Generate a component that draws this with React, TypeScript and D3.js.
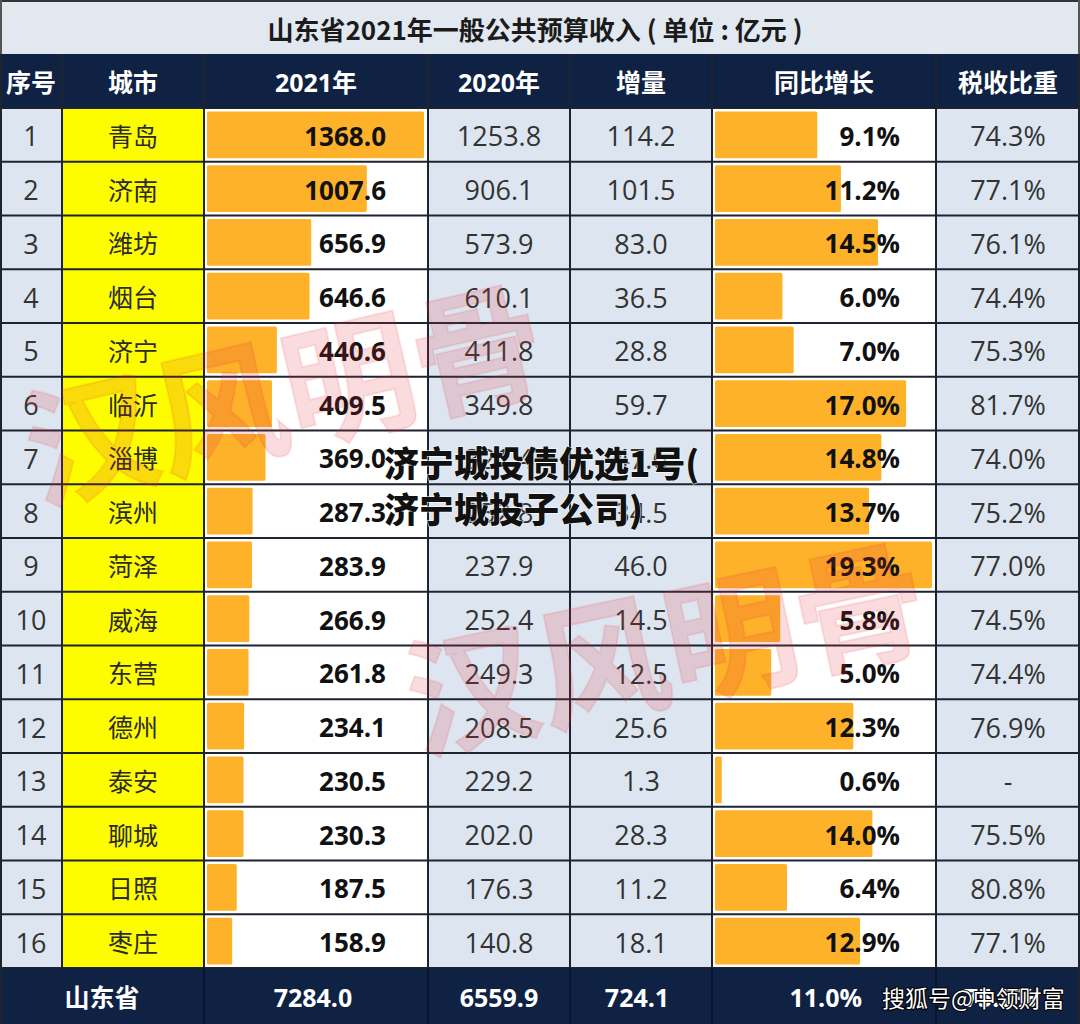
import React from "react";
import * as d3 from "d3";

const title = "山东省2021年一般公共预算收入 ( 单位 : 亿元 )";
const headers = ["序号", "城市", "2021年", "2020年", "增量", "同比增长", "税收比重"];
const ranks = [1, 2, 3, 4, 5, 6, 7, 8, 9, 10, 11, 12, 13, 14, 15, 16];
const cities = ["青岛", "济南", "潍坊", "烟台", "济宁", "临沂", "淄博", "滨州", "菏泽", "威海", "东营", "德州", "泰安", "聊城", "日照", "枣庄"];
const rev2021 = [1368.0, 1007.6, 656.9, 646.6, 440.6, 409.5, 369.0, 287.3, 283.9, 266.9, 261.8, 234.1, 230.5, 230.3, 187.5, 158.9];
const rev2020 = [1253.8, 906.1, 573.9, 610.1, 411.8, 349.8, 321.4, 252.8, 237.9, 252.4, 249.3, 208.5, 229.2, 202.0, 176.3, 140.8];
const increments = [114.2, 101.5, 83.0, 36.5, 28.8, 59.7, 47.6, 34.5, 46.0, 14.5, 12.5, 25.6, 1.3, 28.3, 11.2, 18.1];
const growth = [9.1, 11.2, 14.5, 6.0, 7.0, 17.0, 14.8, 13.7, 19.3, 5.8, 5.0, 12.3, 0.6, 14.0, 6.4, 12.9];
const taxShare: (number | null)[] = [74.3, 77.1, 76.1, 74.4, 75.3, 81.7, 74.0, 75.2, 77.0, 74.5, 74.4, 76.9, null, 75.5, 80.8, 77.1];
const totalLabel = "山东省";
const totals = { rev2021: 7284.0, rev2020: 6559.9, increment: 724.1, growth: 11.0, tax: 75.2 };
const overlayLines = ["济宁城投债优选1号(", "济宁城投子公司)"];
const watermark = "汉风明骨";
const credit = "搜狐号@中领财富";

const W = 1080;
const H = 1024;
const colX = [0, 62, 204, 428, 570, 712, 936, 1080];
const titleH = 54;
const headTop = 54;
const headBottom = 108;
const rowH = 53.75;
const footTop = headBottom + rowH * ranks.length;

const NAVY = "#0f2244";
const LIGHT = "#dde6f0";
const YELLOW = "#fdfd00";
const ORANGE = "#fdb22a";
const LINE = "#1e2330";
const FONT = "'Open Sans','Noto Sans CJK SC',sans-serif";

export default function App() {
  const x2021 = d3.scaleLinear().domain([0, d3.max(rev2021) as number]).range([0, 217]);
  const xGrowth = d3.scaleLinear().domain([0, d3.max(growth) as number]).range([0, 217]);
  const y = (i: number) => headBottom + i * rowH;
  const cx = (c: number) => (colX[c] + colX[c + 1]) / 2;

  return (
    <svg
      width={W}
      height={H}
      style={{ position: "absolute", left: 0, top: 0, background: "#fff" }}
      fontFamily={FONT}
    >
      {/* title */}
      <rect x={0} y={0} width={W} height={titleH} fill="#e2e8f0" />
      <line x1={0} x2={W} y1={1} y2={1} stroke="#333" strokeWidth={2} />
      <line x1={1} x2={1} y1={0} y2={titleH} stroke="#555" strokeWidth={2} />
      <line x1={W - 1} x2={W - 1} y1={0} y2={titleH} stroke="#555" strokeWidth={2} />
      <text x={535} y={28} textAnchor="middle" dominantBaseline="central" fontSize={26} fontWeight={700} fill="#1b1b1b" fontFamily="'Noto Sans CJK SC',sans-serif">
        {title}
      </text>

      {/* header */}
      <rect x={0} y={headTop} width={W} height={headBottom - headTop} fill={NAVY} />
      {headers.map((h, c) => (
        <text key={h} x={cx(c)} y={(headTop + headBottom) / 2 + 1} textAnchor="middle" dominantBaseline="central" fontSize={25} fontWeight={700} fill="#fff">
          {h}
        </text>
      ))}

      {/* rows */}
      {ranks.map((r, i) => {
        const top = y(i);
        return (
          <g key={r}>
            <rect x={colX[0]} y={top} width={colX[1] - colX[0]} height={rowH} fill={LIGHT} />
            <rect x={colX[1]} y={top} width={colX[2] - colX[1]} height={rowH} fill={YELLOW} />
            <rect x={colX[2]} y={top} width={colX[3] - colX[2]} height={rowH} fill="#fff" />
            <rect x={colX[3]} y={top} width={colX[5] - colX[3]} height={rowH} fill={LIGHT} />
            <rect x={colX[5]} y={top} width={colX[6] - colX[5]} height={rowH} fill="#fff" />
            <rect x={colX[6]} y={top} width={colX[7] - colX[6]} height={rowH} fill={LIGHT} />
            <rect x={colX[2] + 3} y={top + 3.5} width={x2021(rev2021[i])} height={rowH - 7} fill={ORANGE} rx={1.5} />
            <rect x={colX[5] + 3} y={top + 3.5} width={Math.max(3, xGrowth(growth[i]))} height={rowH - 7} fill={ORANGE} rx={1.5} />
          </g>
        );
      })}

      {/* footer */}
      <rect x={0} y={footTop} width={W} height={H - footTop} fill={NAVY} />

      {/* grid lines */}
      {d3.range(ranks.length + 1).map((i) => (
        <line key={"h" + i} x1={0} x2={W} y1={y(i)} y2={y(i)} stroke={LINE} strokeWidth={2} />
      ))}
      {colX.slice(1, -1).map((xv, c) => (
        <line key={"v" + c} x1={xv} x2={xv} y1={headTop} y2={footTop} stroke={LINE} strokeWidth={2} />
      ))}
      <line x1={1} x2={1} y1={headTop} y2={H} stroke={LINE} strokeWidth={2} />
      <line x1={W - 1} x2={W - 1} y1={headTop} y2={H} stroke={LINE} strokeWidth={2} />
      {colX.slice(2, -1).map((xv, c) => (
        <line key={"fv" + c} x1={xv} x2={xv} y1={footTop} y2={H} stroke="#0a1630" strokeWidth={2} />
      ))}

      {/* row texts */}
      {ranks.map((r, i) => {
        const my = y(i) + rowH / 2 + 1;
        const t = taxShare[i];
        return (
          <g key={"t" + r} fontSize={27}>
            <text x={cx(0)} y={my} textAnchor="middle" dominantBaseline="central" fill="#333">{r}</text>
            <text x={cx(1)} y={my} textAnchor="middle" dominantBaseline="central" fill="#2a2a2a" fontSize={25}>{cities[i]}</text>
            <text x={386} y={my} textAnchor="end" dominantBaseline="central" fill="#111" fontWeight={700} fontSize={26}>{rev2021[i].toFixed(1)}</text>
            <text x={cx(3)} y={my} textAnchor="middle" dominantBaseline="central" fill="#333">{rev2020[i].toFixed(1)}</text>
            <text x={cx(4)} y={my} textAnchor="middle" dominantBaseline="central" fill="#333">{increments[i].toFixed(1)}</text>
            <text x={900} y={my} textAnchor="end" dominantBaseline="central" fill="#111" fontWeight={700} fontSize={26}>{growth[i].toFixed(1)}%</text>
            <text x={cx(6)} y={my} textAnchor="middle" dominantBaseline="central" fill="#333">{t === null ? "-" : t.toFixed(1) + "%"}</text>
          </g>
        );
      })}

      {/* footer texts */}
      <g fontSize={25} fontWeight={700} fill="#fff">
        <text x={(colX[0] + colX[2]) / 2} y={(footTop + H) / 2 + 1} textAnchor="middle" dominantBaseline="central">{totalLabel}</text>
        <text x={cx(2) - 3} y={(footTop + H) / 2 + 1} textAnchor="middle" dominantBaseline="central">{totals.rev2021.toFixed(1)}</text>
        <text x={cx(3)} y={(footTop + H) / 2 + 1} textAnchor="middle" dominantBaseline="central">{totals.rev2020.toFixed(1)}</text>
        <text x={cx(4) - 4} y={(footTop + H) / 2 + 1} textAnchor="middle" dominantBaseline="central">{totals.increment.toFixed(1)}</text>
        <text x={862} y={(footTop + H) / 2 + 1} textAnchor="end" dominantBaseline="central">{totals.growth.toFixed(1)}%</text>
        <text x={1000} y={(footTop + H) / 2 + 1} textAnchor="middle" dominantBaseline="central">{totals.tax.toFixed(1)}%</text>
      </g>

      {/* watermarks */}
      <g fill="#e8323c" fillOpacity={0.17} stroke="#e8323c" strokeOpacity={0.12} strokeWidth={2} fontWeight={700} fontSize={132} fontFamily="'Noto Sans CJK SC',sans-serif">
        <text x={38} y={502} transform="rotate(-13 38 502)">{watermark}</text>
        <text x={418} y={752} transform="rotate(-12 418 752)">{watermark}</text>
      </g>

      {/* overlay text */}
      <g fontSize={35} fontWeight={900} fill="#111" stroke="#fff" strokeWidth={1} paintOrder="stroke" fontFamily="'Noto Sans CJK SC',sans-serif">
        <text x={384} y={461} dominantBaseline="central">{overlayLines[0]}</text>
        <text x={384} y={507} dominantBaseline="central">{overlayLines[1]}</text>
      </g>

      <text x={882} y={997} dominantBaseline="central" fontSize={23} fill="#fff" stroke="#000" strokeWidth={2} paintOrder="stroke" fontFamily="'Noto Sans CJK SC',sans-serif">
        {credit}
      </text>
    </svg>
  );
}
